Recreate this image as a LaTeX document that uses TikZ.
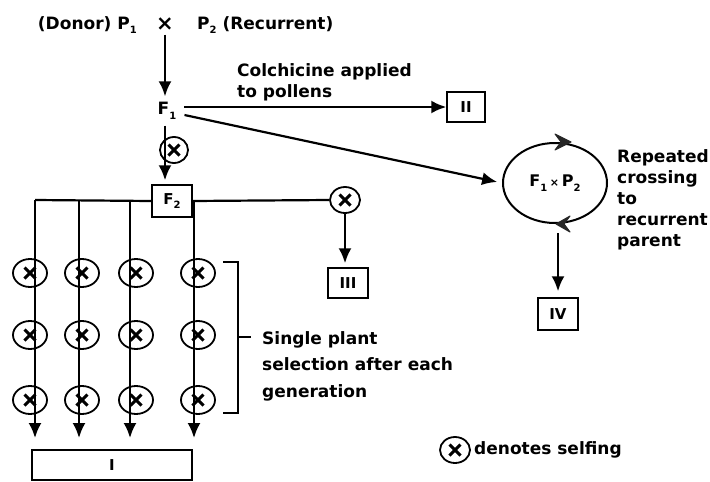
\documentclass[tikz,border=0pt]{standalone}
\usepackage{fontspec}
\setmainfont{DejaVu Sans}
\usetikzlibrary{arrows.meta,shapes.geometric,positioning}
\newcommand{\lowidx}[1]{\raisebox{-0.5ex}{\fontsize{10}{10}\selectfont #1}}

\begin{document}
\begin{tikzpicture}[x=1pt,y=-1pt,
    lbl/.style={font=\bfseries\fontsize{17}{21}\selectfont, inner sep=0pt, align=left},
    gen/.style={draw, line width=1.5pt, minimum width=38pt, minimum height=30pt,
      inner sep=0pt, font=\bfseries\fontsize{15}{15}\selectfont},
    selfing/.style={ellipse, draw, line width=1.8pt, minimum width=32pt, minimum height=26pt,
      inner sep=0pt,
      path picture={
        \draw[line width=3pt] ([xshift=-5.5pt,yshift=-5.5pt]path picture bounding box.center)
          -- ([xshift=5.5pt,yshift=5.5pt]path picture bounding box.center);
        \draw[line width=3pt] ([xshift=-5.5pt,yshift=5.5pt]path picture bounding box.center)
          -- ([xshift=5.5pt,yshift=-5.5pt]path picture bounding box.center);}},
    link/.style={line width=2.2pt, -{Latex[length=15pt,width=13pt]}},
    chevron/.style={fill=black!85, draw=black!85, line width=1pt, line join=round},
  ]
  \useasboundingbox (0,0) rectangle (710,482);

  % Parents and F1
  \node[lbl, anchor=east] (donor) at (137,25) {(Donor) P\lowidx{1}};
  \node[lbl, font=\bfseries\fontsize{21}{21}\selectfont] (cross) at (165,24) {×};
  \node[lbl, anchor=west] (recur) at (197,25) {P\lowidx{2} (Recurrent)};
  \node[lbl] (F1) at (167,111) {F\lowidx{1}};
  \draw[link, shorten <=4pt, shorten >=6pt] (cross.south) -- (cross.south |- F1.north);

  % Colchicine branch
  \node[gen] (II) at (466,107) {II};
  \node[lbl, anchor=west] (colch) at (237,82) {Colchicine applied\\to pollens};
  \draw[link] ([xshift=8pt,yshift=4pt]F1.east) -- (II.west);

  % Backcross branch
  \node[ellipse, draw, line width=2pt, minimum width=104pt, minimum height=80pt,
    inner sep=0pt, font=\bfseries\fontsize{16}{16}\selectfont] (cyc) at (555,183)
    {F\lowidx{1}\,{\fontsize{11}{11}\selectfont ×}\,P\lowidx{2}};
  \draw[link, shorten >=5pt] ([xshift=8pt,yshift=-4pt]F1.east) -- (cyc.west);
  \fill[chevron] ([shift={(0,-8)}]cyc.north) -- ([shift={(16,0)}]cyc.north)
    -- ([shift={(0,8)}]cyc.north) -- ([shift={(6,0)}]cyc.north) -- cycle;
  \fill[chevron] ([shift={(15,-8)}]cyc.south) -- ([shift={(1,0)}]cyc.south)
    -- ([shift={(15,8)}]cyc.south) -- ([shift={(9,0)}]cyc.south) -- cycle;
  \node[lbl, anchor=west] (repeat) at (617,200) {Repeated\\crossing\\to\\recurrent\\parent};
  \node[gen, minimum width=40pt, minimum height=32pt] (IV) at (558,314) {IV};
  \draw[link, shorten <=9pt, shorten >=6pt] ([xshift=3pt]cyc.south) -- ([xshift=3pt]cyc.south |- IV.north);

  % F2
  \node[selfing, minimum width=28pt] (sF1) at (174,150) {};
  \node[gen, minimum width=40pt, minimum height=32pt, fill=white] (F2) at (172,201)
    {F\lowidx{2}};
  \draw[link, shorten <=6pt, shorten >=4pt] ([xshift=-2pt]F1.south) -- ([xshift=-7pt]F2.north);

  % Single seed from F2 to III
  \node[selfing, minimum width=30pt] (s0) at (345,200) {};
  \node[gen, minimum width=40pt] (III) at (348,283) {III};
  \draw[line width=2.2pt] (F2.east) -- (s0.west);
  \draw[link, shorten >=4pt] (s0.south) -- (s0.south |- III.north);

  % Pedigree lines to I
  \node[gen, minimum width=160pt] (I) at (112,465) {I};
  \coordinate (c1) at (35,200);
  \draw[line width=2.2pt] (c1) -- (F2.west);
  \foreach \lx/\sx [count=\k] in {35/30, 79/82, 130/136, 194/198} {
    \coordinate (top\k) at (\lx,200);
    \coordinate (end\k) at (\lx,438);
    \draw[link] (top\k) -- (end\k);
    \foreach \ry [count=\r] in {273, 335, 400}
      \node[selfing, minimum width=34pt, minimum height=28pt] (s\k\r) at (\sx,\ry) {};
  }

  % Selection bracket
  \draw[line width=1.8pt] (223,262) -- (238,262) -- (238,413) -- (223,413);
  \draw[line width=1.8pt] (238,337) -- (251,337);
  \node[lbl, anchor=west, font=\bfseries\fontsize{17}{26.5}\selectfont] (select) at (262,366)
    {Single plant\\selection after each\\generation};

  % Legend
  \node[selfing, minimum width=30pt] (skey) at (455,450) {};
  \node[lbl, anchor=west] (keytext) at (474,450) {denotes selfing};
\end{tikzpicture}
\end{document}
